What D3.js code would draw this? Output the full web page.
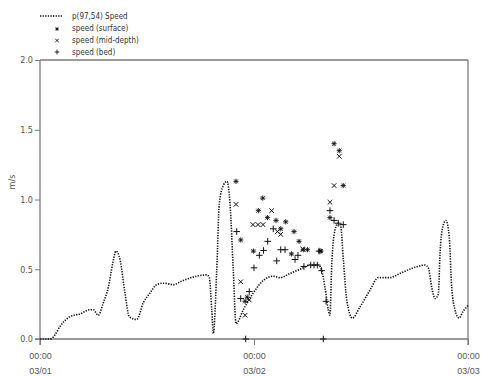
<!DOCTYPE html>
<html>
<head>
<meta charset="utf-8">
<script src="https://cdn.jsdelivr.net/npm/d3@7"></script>
<style>
  html, body { margin: 0; padding: 0; background: #fff; }
  svg { display: block; font-family: "DejaVu Sans Condensed", "DejaVu Sans", sans-serif; }
</style>
</head>
<body>
<svg id="chart" width="481" height="376"></svg>
<script>
// ---- data (hours since 03/01 00:00, value in m/s) ----
const lineHours = [0, 1.12, 1.68, 2.24, 3.36, 4.49, 5.61, 5.98, 6.54, 7.10, 7.66, 8.15, 8.52, 8.97, 9.53, 10.01, 10.84, 11.59, 12.34, 13.09, 13.83, 14.95, 16.07, 17.57, 18.70, 18.99, 19.26, 19.44, 19.82, 20.11, 20.56, 20.97, 21.31, 21.68, 21.98, 22.80, 23.92, 25.04, 26.16, 26.92, 28.04, 29.53, 30.28, 31.21, 31.59, 31.96, 32.33, 32.52, 32.71, 33.08, 33.45, 33.72, 34.02, 34.40, 35.03, 35.89, 37.01, 37.94, 39.25, 40.37, 41.87, 43.18, 43.55, 43.93, 44.30, 44.67, 44.86, 45.16, 45.53, 45.90, 46.17, 46.54, 46.99, 47.47, 48.0];
const lineValues = [0.0, 0.0, 0.03, 0.09, 0.16, 0.18, 0.21, 0.21, 0.17, 0.26, 0.37, 0.54, 0.63, 0.57, 0.33, 0.16, 0.14, 0.26, 0.33, 0.39, 0.40, 0.39, 0.42, 0.45, 0.46, 0.44, 0.21, 0.04, 0.49, 0.97, 1.10, 1.13, 0.97, 0.49, 0.11, 0.21, 0.33, 0.42, 0.45, 0.44, 0.47, 0.51, 0.53, 0.53, 0.49, 0.37, 0.21, 0.17, 0.52, 0.78, 0.83, 0.81, 0.57, 0.28, 0.15, 0.23, 0.35, 0.44, 0.44, 0.47, 0.51, 0.53, 0.51, 0.37, 0.29, 0.32, 0.61, 0.80, 0.85, 0.73, 0.37, 0.21, 0.15, 0.20, 0.24];

const surfaceHours  = [21.98, 22.51, 23.00, 23.24, 23.93, 24.49, 24.98, 25.51, 26.47, 27.00, 27.56, 28.49, 29.05, 29.53, 30.00, 28.20, 31.51, 31.40, 32.52, 32.98, 33.56, 34.01];
const surfaceValues = [1.13, 0.71, 0.27, 0.30, 0.63, 0.92, 1.01, 0.87, 0.85, 0.79, 0.84, 0.77, 0.70, 0.64, 0.64, 0.61, 0.63, 0.63, 0.87, 1.40, 1.35, 1.10];

const midHours  = [21.98, 22.51, 23.00, 23.47, 23.88, 24.45, 25.01, 25.98, 26.62, 27.00, 29.46, 32.52, 32.98, 33.56];
const midValues = [0.965, 0.41, 0.17, 0.28, 0.82, 0.82, 0.82, 0.92, 0.77, 0.75, 0.645, 0.98, 1.10, 1.31];

const bedHours  = [22.06, 22.51, 23.07, 23.47, 24.00, 24.60, 25.07, 25.54, 26.16, 26.55, 27.00, 27.48, 28.60, 28.93, 29.60, 30.36, 30.73, 31.10, 31.29, 31.59, 31.77, 32.08, 32.52, 32.98, 33.45, 34.01];
const bedValues = [0.77, 0.29, 0.0, 0.34, 0.51, 0.60, 0.635, 0.70, 0.79, 0.56, 0.64, 0.64, 0.57, 0.60, 0.52, 0.53, 0.53, 0.53, 0.63, 0.49, 0.0, 0.27, 0.92, 0.85, 0.83, 0.82];

const yTicks = [0.0, 0.5, 1.0, 1.5, 2.0];
const xTicks = [0, 24, 48];
const xTickTimes = ["00:00", "00:00", "00:00"];
const xTickDates = ["03/01", "03/02", "03/03"];
const legendLabels = ["p(97,54) Speed", "speed (surface)", "speed (mid-depth)", "speed (bed)"];
const yLabel = "m/s";

// ---- layout ----
const W = 481, H = 376;
const m = { left: 40, right: 13, top: 60, bottom: 37 };
const svg = d3.select("#chart");
const axisColor = "#7a7a7a";
const textColor = "#555";

const x = d3.scaleLinear().domain([0, 48]).range([m.left, W - m.right]);
const y = d3.scaleLinear().domain([0, 2]).range([H - m.bottom, m.top]);

// frame
const g = svg.append("g");
g.append("line").attr("x1", x(0)).attr("x2", x(48)).attr("y1", y(2)).attr("y2", y(2))
  .attr("stroke", axisColor).attr("stroke-width", 1.3);
g.append("line").attr("x1", x(48)).attr("x2", x(48)).attr("y1", y(2)).attr("y2", y(0) + 6)
  .attr("stroke", axisColor).attr("stroke-width", 1.3);

// y axis
const yAxis = d3.axisLeft(y).tickValues(yTicks).tickFormat(d3.format(".1f")).tickSize(5).tickPadding(2);
const gy = svg.append("g").attr("transform", `translate(${m.left},0)`).call(yAxis);
gy.select(".domain").attr("stroke", axisColor).attr("stroke-width", 1.3)
  .attr("d", `M0,${y(2)}V${y(0) + 6}`);
gy.selectAll(".tick line").attr("stroke", axisColor).attr("stroke-width", 1);
gy.selectAll(".tick text").attr("fill", textColor).attr("font-size", 9)
  .attr("font-family", "DejaVu Sans Condensed, sans-serif");

// x axis
const xAxis = d3.axisBottom(x).tickValues(xTicks).tickFormat(() => "").tickSize(6);
const gx = svg.append("g").attr("transform", `translate(0,${y(0)})`).call(xAxis);
gx.select(".domain").attr("stroke", axisColor).attr("stroke-width", 1.3)
  .attr("d", `M${x(0) - 5},0H${x(48)}`);
gx.selectAll(".tick line").attr("stroke", axisColor).attr("stroke-width", 1);
gx.selectAll(".tick").each(function(d, i) {
  const t = d3.select(this);
  t.append("text").attr("y", 20).attr("fill", textColor).attr("font-size", 9)
    .attr("text-anchor", "middle").text(xTickTimes[i]);
  t.append("text").attr("y", 35).attr("fill", textColor).attr("font-size", 9)
    .attr("text-anchor", "middle").text(xTickDates[i]);
});

// y label
svg.append("text").attr("transform", `translate(15,${182}) rotate(-90)`)
  .attr("text-anchor", "middle").attr("fill", textColor).attr("font-size", 9).text(yLabel);

// line
const lineData = lineHours.map((h, i) => [h, lineValues[i]]);
svg.append("path").datum(lineData)
  .attr("d", d3.line().x(d => x(d[0])).y(d => y(d[1])).curve(d3.curveMonotoneX))
  .attr("fill", "none").attr("stroke", "#111").attr("stroke-width", 1.6)
  .attr("stroke-dasharray", "1.3,1.3");

// marker shapes
function plusPath(r) { return `M${-r},0H${r}M0,${-r}V${r}`; }
function crossPath(r) { return `M${-r},${-r}L${r},${r}M${-r},${r}L${r},${-r}`; }
function starPath(r) { const d = r * 0.75; return `M${-r},0H${r}M0,${-r}V${r}M${-d},${-d}L${d},${d}M${-d},${d}L${d},${-d}`; }
const markerDefs = [
  { hours: surfaceHours, values: surfaceValues, path: starPath(2.6), w: 0.9 },
  { hours: midHours, values: midValues, path: crossPath(2.3), w: 1 },
  { hours: bedHours, values: bedValues, path: plusPath(3.3), w: 1 }
];
markerDefs.forEach(s => {
  svg.append("g").selectAll("path").data(s.hours.map((h, i) => [h, s.values[i]])).join("path")
    .attr("transform", d => `translate(${x(d[0])},${y(d[1])})`)
    .attr("d", s.path).attr("fill", "none").attr("stroke", "#111").attr("stroke-width", s.w);
});

// legend
const lg = svg.append("g");
lg.append("line").attr("x1", 40).attr("x2", 62).attr("y1", 16).attr("y2", 16)
  .attr("stroke", "#111").attr("stroke-width", 1.6).attr("stroke-dasharray", "1.3,1.3");
[starPath(1.8), crossPath(1.8), plusPath(2.4)].forEach((p, i) => {
  lg.append("path").attr("transform", `translate(57,${29 + i * 11.5})`).attr("d", p)
    .attr("fill", "none").attr("stroke", "#111").attr("stroke-width", 0.9);
});
legendLabels.forEach((t, i) => {
  lg.append("text").attr("x", 72).attr("y", 16 + i * 12).attr("dy", "0.35em")
    .attr("fill", "#333").attr("font-size", 8).text(t);
});
</script>
</body>
</html>
